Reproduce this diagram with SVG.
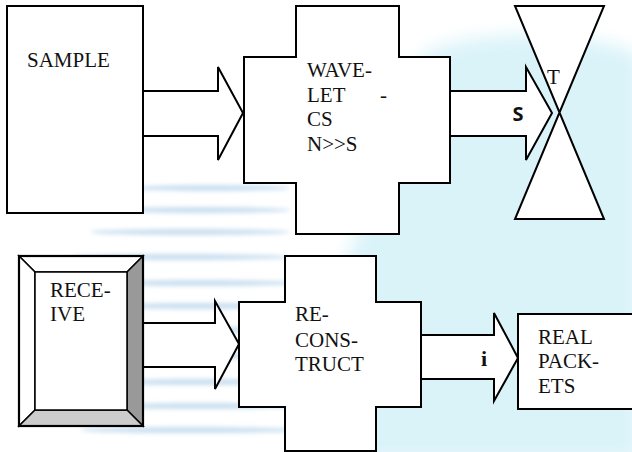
<svg xmlns="http://www.w3.org/2000/svg" width="632" height="452" viewBox="0 0 632 452">
  <defs>
    <filter id="soft" x="-20%" y="-20%" width="140%" height="140%">
      <feGaussianBlur stdDeviation="9"/>
    </filter>
    <filter id="streak" x="-10%" y="-200%" width="120%" height="500%">
      <feGaussianBlur stdDeviation="2.2"/>
    </filter>
  </defs>
  <style>
    .ln { fill: #ffffff; stroke: #000000; stroke-width: 2; stroke-linejoin: miter; }
    .lbl { font-family: "Liberation Serif", "Times New Roman", serif; font-size: 21px; fill: #111111; }
    .sym { font-family: "Open Sans", "Liberation Sans", sans-serif; font-size: 20px; font-weight: bold; fill: #111111; }
    .symi { font-family: "Liberation Serif", "Times New Roman", serif; font-size: 22px; font-weight: bold; fill: #111111; }
    .streak { fill: #c9dff0; filter: url(#streak); }
  </style>

  <!-- page background with a pale cyan wash -->
  <rect x="0" y="0" width="632" height="452" fill="#ffffff"/>
  <g id="backdrop">
    <path d="M430,50 C500,25 600,35 640,55 L640,460 L300,460 C310,380 330,300 355,240 C385,170 390,85 430,50 Z" fill="#d9f3f9" filter="url(#soft)"/>
    <ellipse cx="210" cy="188" rx="80" ry="3" class="streak"/>
    <ellipse cx="200" cy="210" rx="90" ry="3" class="streak"/>
    <ellipse cx="190" cy="232" rx="100" ry="3" class="streak"/>
    <ellipse cx="180" cy="257" rx="110" ry="3" class="streak"/>
    <ellipse cx="200" cy="283" rx="100" ry="3" class="streak"/>
    <ellipse cx="200" cy="306" rx="100" ry="3" class="streak"/>
    <ellipse cx="200" cy="330" rx="100" ry="3" class="streak"/>
    <ellipse cx="200" cy="356" rx="100" ry="3" class="streak"/>
    <ellipse cx="200" cy="382" rx="100" ry="3" class="streak"/>
    <ellipse cx="200" cy="406" rx="100" ry="3" class="streak"/>
    <ellipse cx="190" cy="430" rx="110" ry="3" class="streak"/>
  </g>

  <!-- block arrows between stages -->
  <g id="connectors">
    <path class="ln" d="M143,91 H218 V67 L243,113 L218,160 V136 H143"/>
    <path class="ln" d="M450,91 H526 V67 L552,113 L526,160 V136 H450"/>
    <path class="ln" d="M143,323 H215 V301 L239,344 L215,389 V367 H143"/>
    <path class="ln" d="M421,335 H494 V313 L518,358 L494,401 V379 H421"/>
    <text class="sym" x="518" y="121" text-anchor="middle">S</text>
    <text class="symi" x="484" y="366" text-anchor="middle">i</text>
  </g>

  <g id="sample">
    <rect class="ln" x="7" y="6" width="136" height="207"/>
    <text class="lbl" x="27" y="67">SAMPLE</text>
  </g>

  <g id="wavelet">
    <path class="ln" d="M296,6 H399 V57 H450 V183 H399 V234 H296 V183 H244 V57 H296 Z"/>
    <text class="lbl" x="307" y="77">WAVE-</text>
    <text class="lbl" x="307" y="102">LET</text>
    <text class="lbl" x="380" y="102">-</text>
    <text class="lbl" x="307" y="126">CS</text>
    <text class="lbl" x="307" y="151">N&gt;&gt;S</text>
  </g>

  <g id="threshold">
    <path class="ln" d="M515,6 H604 L515,219 H604 Z"/>
    <text class="lbl" x="547" y="84">T</text>
  </g>

  <g id="receive">
    <path d="M19,256 H143 L127,272 H35 Z" fill="#ffffff" stroke="#000" stroke-width="1.5"/>
    <path d="M19,256 L35,272 V410 L19,426 Z" fill="#ffffff" stroke="#000" stroke-width="1.5"/>
    <path d="M143,256 V426 L127,410 V272 Z" fill="#999999" stroke="#000" stroke-width="1.5"/>
    <path d="M19,426 L35,410 H127 L143,426 Z" fill="#cccccc" stroke="#000" stroke-width="1.5"/>
    <rect x="35" y="272" width="92" height="138" fill="#ffffff" stroke="#000" stroke-width="1.5"/>
    <rect x="19" y="256" width="124" height="170" fill="none" stroke="#000" stroke-width="2.2"/>
    <text class="lbl" x="50" y="297">RECE-</text>
    <text class="lbl" x="50" y="321">IVE</text>
  </g>

  <g id="reconstruct">
    <path class="ln" d="M285,256 H376 V302 H421 V407 H376 V451 H285 V407 H239 V302 H285 Z"/>
    <text class="lbl" x="295" y="321">RE-</text>
    <text class="lbl" x="295" y="347">CONS-</text>
    <text class="lbl" x="295" y="371">TRUCT</text>
  </g>

  <g id="real-packets">
    <rect class="ln" x="518" y="314" width="120" height="95"/>
    <text class="lbl" x="538" y="344">REAL</text>
    <text class="lbl" x="538" y="368">PACK-</text>
    <text class="lbl" x="538" y="393">ETS</text>
  </g>
</svg>
